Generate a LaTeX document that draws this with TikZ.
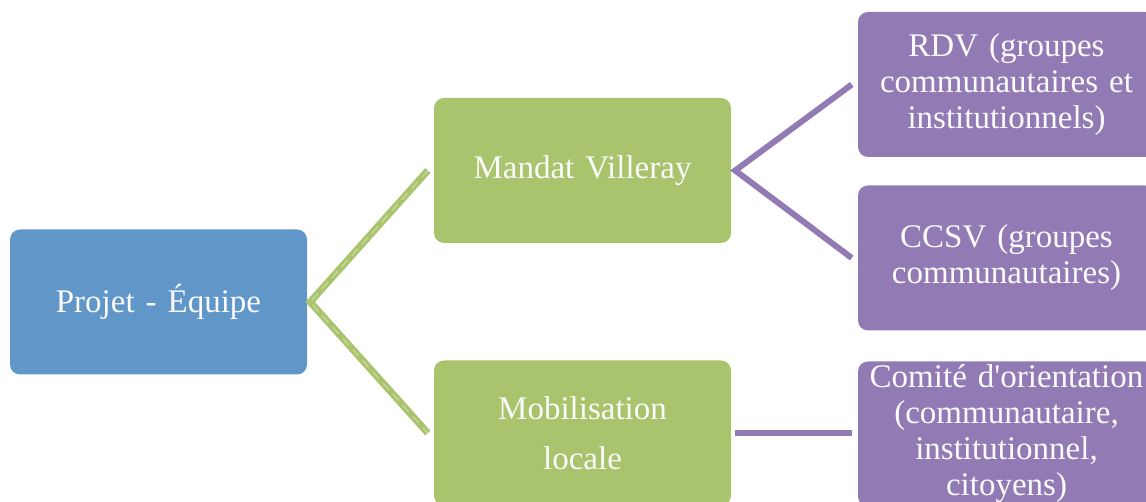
\documentclass[tikz,border=0pt]{standalone}
\usepackage{fontspec}
\setmainfont{Liberation Serif}
\usepackage{xcolor}

\definecolor{teamblue}{RGB}{97,150,201}
\definecolor{mandategreen}{RGB}{169,196,108}
\definecolor{partnerpurple}{RGB}{146,123,180}

\begin{document}
\begin{tikzpicture}[
    x=1pt, y=-1pt,
    box/.style={rounded corners=10pt, inner sep=0pt, align=center,
      minimum width=297pt, minimum height=145pt, text width=290pt,
      text=white!96!gray, font=\fontsize{33}{36}\selectfont},
    team/.style={box, fill=teamblue},
    mandate/.style={box, fill=mandategreen},
    partner/.style={box, fill=partnerpurple},
    link/.style={line width=7pt, line join=miter},
    sheen/.style={line width=1.6pt, white, opacity=0.3, dash pattern=on 9pt off 6pt}
  ]
  \useasboundingbox (0,0) rectangle (1146,502);
  \clip (0,0) rectangle (1146,502);

  \node[team]    (projet)  at (158.5,302)  {Projet - Équipe};
  \node[mandate] (mandat)  at (582.5,170.5) {Mandat Villeray};
  \node[mandate] (mobil)   at (582.5,433)  {Mobilisation\\[14pt]locale};
  \node[partner] (rdv)     at (1006.5,84.5) {RDV (groupes\\communautaires et\\institutionnels)};
  \node[partner] (ccsv)    at (1006.5,258) {CCSV (groupes\\communautaires)};
  \node[partner] (comite)  at (1006.5,434) {Comité d\textquotesingle orientation\\(communautaire,\\institutionnel,\\citoyens)};
  \coordinate (comite in) at (comite.west |- mobil.east);

  % first level
  \draw[link, mandategreen] ([xshift=-6pt]mandat.west) -- ([xshift=3pt]projet.east) -- ([xshift=-6pt]mobil.west);
  \draw[sheen] ([xshift=-6pt]mandat.west) -- ([xshift=3pt]projet.east) -- ([xshift=-6pt]mobil.west);

  % second level
  \draw[link, partnerpurple, line width=6pt] ([xshift=-6pt]rdv.west) -- ([xshift=4pt]mandat.east) -- ([xshift=-6pt]ccsv.west);
  \draw[link, partnerpurple, line width=6pt] ([xshift=4pt]mobil.east) -- ([xshift=-6pt]comite in);
\end{tikzpicture}
\end{document}
